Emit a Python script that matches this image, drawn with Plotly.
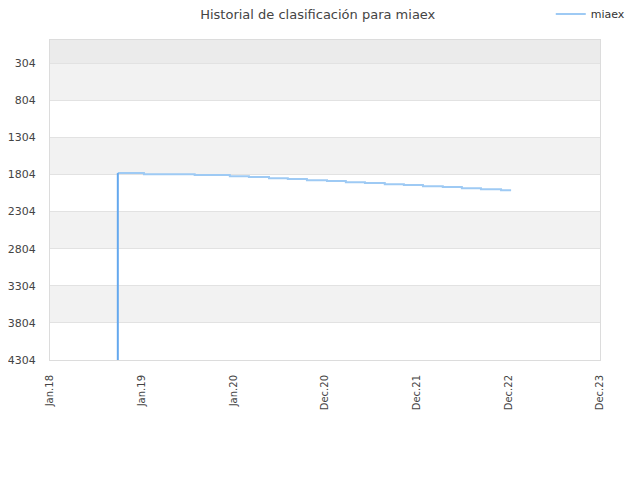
import plotly.graph_objects as go

# ==== Data ====
player = "miaex"

entry_dates = ["2018-09-28", "2018-09-28"]
entry_ranks = [4304, 1786]

step_dates = [
    "2018-09-28", "2019-01-10", "2019-07-31", "2019-12-18", "2020-03-03",
    "2020-05-22", "2020-08-05", "2020-10-20", "2021-01-08", "2021-03-24",
    "2021-06-08", "2021-08-26", "2021-11-10", "2022-01-25", "2022-04-14",
    "2022-06-29", "2022-09-13", "2022-12-02", "2023-01-11",
]
step_ranks = [
    1786, 1800, 1813, 1827, 1840, 1854, 1867, 1881, 1894, 1908,
    1921, 1935, 1948, 1962, 1975, 1989, 2002, 2016, 2016,
]

x_tick_dates = ["2018-01-01", "2019-01-01", "2020-01-01", "2020-12-31",
                "2021-12-31", "2022-12-31", "2023-12-31"]
x_tick_labels = ["Jan.18", "Jan.19", "Jan.20", "Dec.20", "Dec.21", "Dec.22", "Dec.23"]

y_ticks = [304, 804, 1304, 1804, 2304, 2804, 3304, 3804, 4304]
y_top = -7

# ==== Figure ====
fig = go.Figure()

fig.add_trace(go.Scatter(
    x=step_dates,
    y=step_ranks,
    mode="lines",
    line=dict(color="#9ecaf4", width=2, shape="hv"),
    name=player,
))
fig.add_trace(go.Scatter(
    x=entry_dates,
    y=entry_ranks,
    mode="lines",
    line=dict(color="#64a8ee", width=2),
    showlegend=False,
    hoverinfo="skip",
))

# alternating bands between the rank ticks
shapes = [dict(type="rect", xref="paper", yref="y", x0=0, x1=1,
               y0=y_top, y1=y_ticks[0], fillcolor="#ebebeb",
               line_width=0, layer="below")]
for i in range(len(y_ticks) - 1):
    if i % 2 == 0:
        shapes.append(dict(type="rect", xref="paper", yref="y", x0=0, x1=1,
                           y0=y_ticks[i], y1=y_ticks[i + 1],
                           fillcolor="#f2f2f2", line_width=0, layer="below"))

# page body adds ~8px offset, margins compensate
fig.update_layout(
    width=640,
    height=480,
    margin=dict(l=42, r=48, t=32, b=128, autoexpand=False),
    paper_bgcolor="white",
    plot_bgcolor="white",
    font=dict(family="DejaVu Sans", size=11, color="#444444"),
    title=dict(text="Historial de clasificación para miaex", x=0.484, xanchor="center",
               y=0.986, yanchor="middle", font=dict(size=13, color="#444444")),
    shapes=shapes,
    showlegend=True,
    legend=dict(x=0.9105, xanchor="left", y=1.081, yanchor="middle",
                bgcolor="rgba(0,0,0,0)", font=dict(size=11, color="#333333")),
    xaxis=dict(
        type="date",
        range=[x_tick_dates[0], x_tick_dates[-1]],
        tickmode="array",
        tickvals=x_tick_dates,
        ticktext=x_tick_labels,
        tickangle=-90,
        ticklabelstandoff=10,
        showgrid=False,
        zeroline=False,
        showline=True,
        mirror=True,
        linecolor="#dcdcdc",
        linewidth=1,
        tickfont=dict(size=10, color="#444444"),
    ),
    yaxis=dict(
        range=[y_ticks[-1], y_top],
        tickmode="array",
        tickvals=y_ticks,
        ticktext=[str(v) for v in y_ticks],
        ticklabelstandoff=11,
        showgrid=True,
        gridcolor="#e2e2e2",
        gridwidth=1,
        zeroline=False,
        showline=True,
        mirror=True,
        linecolor="#dcdcdc",
        linewidth=1,
        tickfont=dict(size=11, color="#444444"),
    ),
)

fig.write_html("out.html")
